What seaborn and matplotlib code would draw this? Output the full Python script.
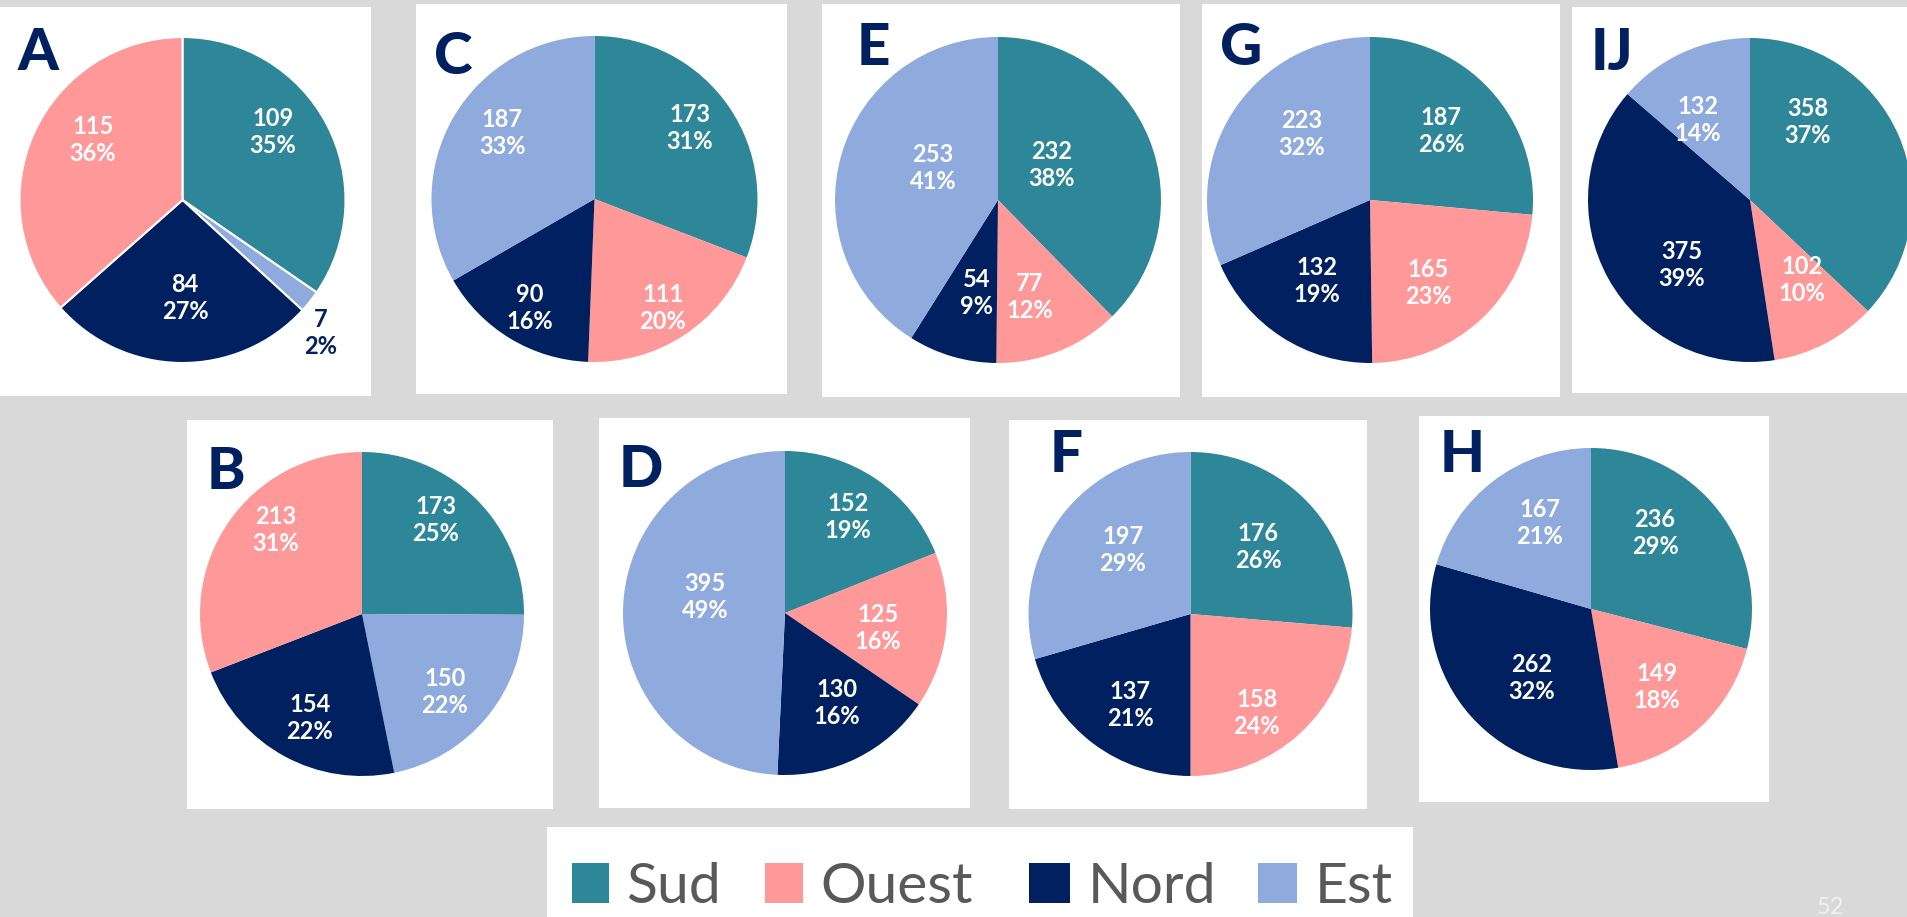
import matplotlib
matplotlib.use("Agg")
import matplotlib.pyplot as plt
from matplotlib.patches import Rectangle
import seaborn as sns

# ---- data -------------------------------------------------------------
regions = ["Sud", "Ouest", "Nord", "Est"]
panels = ["A", "B", "C", "D", "E", "F", "G", "H", "IJ"]

sud = [109, 173, 173, 152, 232, 176, 187, 236, 358]
ouest = [115, 213, 111, 125, 77, 158, 165, 149, 102]
nord = [84, 154, 90, 130, 54, 137, 132, 262, 375]
est = [7, 150, 187, 395, 253, 197, 223, 167, 132]

pct_sud = [35, 25, 31, 19, 38, 26, 26, 29, 37]
pct_ouest = [36, 31, 20, 16, 12, 24, 23, 18, 10]
pct_nord = [27, 22, 16, 16, 9, 21, 19, 32, 39]
pct_est = [2, 22, 33, 49, 41, 29, 32, 21, 14]

# ---- style ------------------------------------------------------------
sns.set_theme(style="white")
plt.rcParams["font.family"] = ["Lato", "DejaVu Sans"]

palette = dict(zip(regions, sns.color_palette(["#2E8699", "#FF9999", "#002060", "#8FAADC"])))
NAVY = "#002060"
SLIDE_BG = "#D9D9D9"

W, H = 1907, 917
fig = plt.figure(figsize=(W / 100, H / 100), dpi=100, facecolor=SLIDE_BG)


def fx(x):
    return x / W


def fy(y):
    return 1 - y / H


def card(x0, y0, x1, y1, color="white", z=-10):
    fig.patches.append(Rectangle((fx(x0), fy(y1)), (x1 - x0) / W, (y1 - y0) / H,
                                 transform=fig.transFigure, facecolor=color,
                                 edgecolor="none", zorder=z))


# card box, pie centre and radius, tag baseline (pixels, origin top-left)
layout = {
    "A": dict(box=(0, 7, 371, 396), c=(182.5, 200), r=163, tag=(18, 70)),
    "C": dict(box=(416, 4, 787, 394), c=(594.5, 199), r=163, tag=(434, 74)),
    "E": dict(box=(822, 4, 1180, 397), c=(998, 200), r=163, tag=(857, 65)),
    "G": dict(box=(1202, 4, 1560, 397), c=(1370, 200), r=163, tag=(1220, 65)),
    "IJ": dict(box=(1572, 7, 1910, 393), c=(1750, 200), r=162, tag=(1591, 70)),
    "B": dict(box=(187, 420, 553, 809), c=(362, 614), r=162, tag=(207, 489)),
    "D": dict(box=(599, 418, 970, 808), c=(785, 613), r=162, tag=(619, 487)),
    "F": dict(box=(1009, 420, 1367, 809), c=(1190.5, 614), r=162, tag=(1050, 472)),
    "H": dict(box=(1419, 416, 1769, 802), c=(1591, 609), r=161, tag=(1440, 472)),
}

# clockwise slice order from 12 o'clock
order_default = ["Sud", "Ouest", "Nord", "Est"]
order_alt = ["Sud", "Est", "Nord", "Ouest"]
slice_order = {p: (order_alt if p in ("A", "B") else order_default) for p in panels}

# data-label anchor (in pie radii from the centre), by region Sud/Ouest/Nord/Est
label_pos = {
    "A": [(0.555, 0.417), (-0.549, 0.368), (0.015, -0.601), (0.850, -0.816)],
    "B": [(0.457, 0.580), (-0.531, 0.519), (-0.321, -0.642), (0.512, -0.481)],
    "C": [(0.586, 0.436), (0.420, -0.669), (-0.396, -0.669), (-0.567, 0.405)],
    "D": [(0.389, 0.593), (0.574, -0.093), (0.321, -0.556), (-0.494, 0.099)],
    "E": [(0.331, 0.215), (0.196, -0.595), (-0.129, -0.571), (-0.399, 0.196)],
    "F": [(0.417, 0.414), (0.410, -0.611), (-0.373, -0.562), (-0.417, 0.395)],
    "G": [(0.436, 0.423), (0.356, -0.509), (-0.325, -0.497), (-0.417, 0.405)],
    "H": [(0.398, 0.472), (0.410, -0.484), (-0.366, -0.429), (-0.317, 0.534)],
    "IJ": [(0.358, 0.481), (0.321, -0.494), (-0.420, -0.401), (-0.321, 0.494)],
}
edge_width = {p: (1.5 if p == "A" else 0) for p in panels}

values = dict(zip(regions, [sud, ouest, nord, est]))
percents = dict(zip(regions, [pct_sud, pct_ouest, pct_nord, pct_est]))

for i, p in enumerate(panels):
    lay = layout[p]
    card(*lay["box"])
    cx, cy = lay["c"]
    r = lay["r"]
    ax = fig.add_axes([fx(cx - r), fy(cy + r), 2 * r / W, 2 * r / H])
    ax.set_facecolor("none")
    ax.set_zorder(1)

    order = slice_order[p]
    vals = [values[g][i] for g in order]
    cols = [palette[g] for g in order]
    ax.pie(vals, colors=cols, startangle=90, counterclock=False, radius=1.0,
           wedgeprops=dict(linewidth=edge_width[p], edgecolor="white"))
    ax.set_xlim(-1, 1)
    ax.set_ylim(-1, 1)
    ax.set_aspect("equal")
    ax.axis("off")

    for g in order:
        lx, ly = label_pos[p][regions.index(g)]
        outside = (lx * lx + ly * ly) > 1
        ax.text(lx, ly, f"{values[g][i]}\n{percents[g][i]}%",
                ha="center", va="center", color=NAVY if outside else "white",
                fontsize=17, fontweight="bold", linespacing=1.2, clip_on=False)

    tx, ty = lay["tag"]
    fig.text(fx(tx), fy(ty), p, ha="left", va="baseline", color=NAVY,
             fontsize=42, fontweight="black", zorder=3)

# ---- legend -----------------------------------------------------------
card(547, 827, 1413, 920)
legend_sq = {"Sud": (572, 609), "Ouest": (765, 803), "Nord": (1029, 1070), "Est": (1258, 1297)}
legend_tx = {"Sud": 626, "Ouest": 820, "Nord": 1088, "Est": 1315}
for g in regions:
    a, b = legend_sq[g]
    card(a, 863, b, 903, color=palette[g], z=-5)
    fig.text(fx(legend_tx[g]), fy(903), g, ha="left", va="baseline",
             color="#595959", fontsize=41)

# slide number
fig.text(fx(1817), fy(914), "52", ha="left", va="baseline", color="#F2F2F2", fontsize=17)

fig.savefig("out.png", dpi=100, facecolor=SLIDE_BG)
